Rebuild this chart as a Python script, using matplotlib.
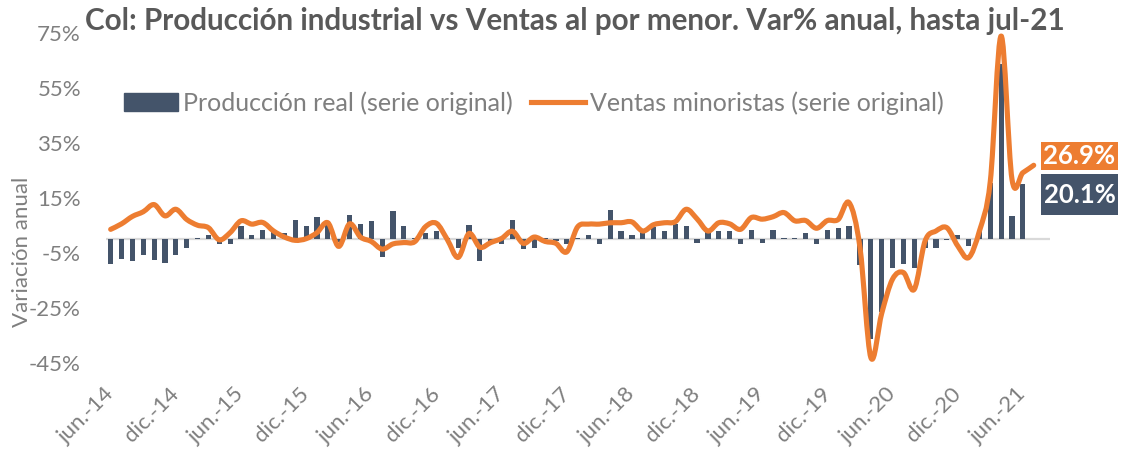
import numpy as np
import matplotlib
matplotlib.use('Agg')
import matplotlib.pyplot as plt
from matplotlib.path import Path
from matplotlib.patches import PathPatch, Rectangle
from matplotlib.lines import Line2D

plt.rcParams['font.family'] = ['Lato', 'DejaVu Sans']

# ---------------- data ----------------
mes = ['ene.', 'feb.', 'mar.', 'abr.', 'may.', 'jun.', 'jul.', 'ago.', 'sep.', 'oct.', 'nov.', 'dic.']
meses = [f"{mes[m]}-{y % 100:02d}" for y in range(2014, 2022) for m in range(12)][5:5 + 86]  # jun-14 .. jul-21

produccion = [-9.1, -7.3, -8.0, -5.8, -7.6, -8.5, -5.8, -3.0, 0.5, 1.5,
              -1.8, -1.8, 5.0, 1.5, 3.4, 2.7, 2.4, 7.1, 4.7, 8.1,
              6.5, -1.0, 9.0, 5.5, 6.7, -6.6, 10.4, 4.8, 0.6, 2.1,
              3.0, 0.5, -3.2, 5.1, -7.9, -1.0, -1.8, 7.0, -3.4, -3.1,
              0.3, -0.5, -1.8, 0.6, 1.5, -1.8, 10.7, 3.0, 1.5, 2.7,
              4.3, 2.9, 5.4, 4.8, -1.5, 2.7, 3.0, 3.0, -1.8, 3.4,
              -1.5, 3.4, 0.5, 0.5, 2.1, -1.8, 3.4, 4.0, 4.8, -9.3,
              -36.4, -26.5, -10.4, -9.0, -10.6, -3.0, -3.3, -0.4, 1.4, -2.4,
              3.0, 20.6, 63.6, 8.5, 20.1]

ventas = [3.6, 5.6, 8.3, 10.0, 12.6, 8.5, 10.9, 7.2, 5.1, 4.2,
          -0.2, 2.4, 6.7, 5.5, 6.1, 3.0, 0.8, -0.4, 0.2, 2.4,
          6.0, -2.6, 5.6, 0.8, -0.8, -3.6, -1.7, -1.2, -0.9, 4.6,
          5.8, -0.1, -6.6, 2.1, -2.9, -1.2, 0.3, 2.9, -1.5, 0.8,
          -0.8, -1.5, -4.6, 4.5, 5.5, 5.5, 6.0, 6.0, 6.3, 3.0,
          5.3, 6.0, 6.4, 10.9, 7.4, 3.0, 6.0, 5.6, 3.6, 7.9,
          7.3, 8.2, 9.7, 6.7, 6.8, 4.0, 6.8, 7.2, 13.3, -3.0,
          -43.0, -27.0, -14.5, -12.1, -18.2, -0.6, 3.0, 4.2, -2.4, -6.7,
          3.0, 21.0, 73.9, 21.8, 24.2, 26.9]

yticks = [-45, -25, -5, 15, 35, 55, 75]
serie_labels = ['Producción real (serie original)', 'Ventas minoristas (serie original)']
titulo = 'Col: Producción industrial vs Ventas al por menor. Var% anual, hasta jul-21'

C_BAR = '#44546A'
C_LINE = '#ED7D31'
C_TXT = '#7F7F7F'

W, H = 1122, 457
fig = plt.figure(figsize=(W / 100, H / 100), dpi=100)
L, R, T, B = 106, 1050, 33, 363
ax = fig.add_axes([L / W, 1 - B / H, (R - L) / W, (B - T) / H])

x_bar = np.arange(len(produccion))
ax.axhline(0, color='#D9D9D9', lw=1.6, zorder=1)
ax.bar(x_bar, produccion, width=0.48, color=C_BAR, zorder=2)


def smooth_path(y):
    pts = np.column_stack([np.arange(len(y), dtype=float), np.asarray(y, float)])
    n = len(pts)
    verts = [pts[0]]
    codes = [Path.MOVETO]
    for i in range(n - 1):
        p0 = pts[i - 1] if i > 0 else pts[i]
        p1, p2 = pts[i], pts[i + 1]
        p3 = pts[i + 2] if i + 2 < n else pts[i + 1]
        verts += [p1 + (p2 - p0) / 6, p2 - (p3 - p1) / 6, p2]
        codes += [Path.CURVE4] * 3
    return Path(verts, codes)


ax.add_patch(PathPatch(smooth_path(ventas), fill=False, edgecolor=C_LINE, lw=3.7,
                       capstyle='round', joinstyle='round', zorder=3))

ax.set_xlim(-0.43, 86.5)
ax.set_ylim(-45, 75)
for s in ax.spines.values():
    s.set_visible(False)

ax.set_yticks(yticks)
ax.set_yticklabels([f"{v}%" for v in yticks])
ax.tick_params(axis='y', length=0, pad=18, labelsize=16, labelcolor=C_TXT)

xt = list(range(0, len(produccion), 6))
ax.set_xticks(xt)
ax.set_xticklabels([meses[i] for i in xt], rotation=45, ha='right', va='center',
                   rotation_mode='anchor')
ax.tick_params(axis='x', length=0, pad=20, labelsize=16, labelcolor=C_TXT)

fig.text(22 / W, 1 - 252 / H, 'Variación anual', rotation=90, ha='center', va='center',
         fontsize=16, color=C_TXT)

fig.text(575 / W, 1 - 21 / H, titulo, ha='center', va='center', fontsize=21.3,
         fontweight='bold', color='#595959')

handles = [Rectangle((0, 0), 1, 1, color=C_BAR), Line2D([], [], color=C_LINE, lw=3.7)]
fig.legend(handles, serie_labels, loc='center left', bbox_to_anchor=(124 / W, 1 - 103 / H),
           ncol=2, frameon=False, fontsize=18, labelcolor=C_TXT, handlelength=2.15,
           handleheight=0.75, handletextpad=0.2, columnspacing=0.75, borderaxespad=0, borderpad=0)

# end-value labels
bx0, bx1 = 1041, 1118
fig.add_artist(Rectangle((bx0 / W, 1 - 170 / H), (bx1 - bx0) / W, 28 / H,
                         transform=fig.transFigure, color=C_LINE, lw=0))
fig.add_artist(Rectangle((bx0 / W, 1 - 215 / H), (bx1 - bx0) / W, 41 / H,
                         transform=fig.transFigure, color=C_BAR, lw=0))
fig.text((bx0 + bx1) / 2 / W, 1 - 156 / H, f"{ventas[-1]:.1f}%", ha='center', va='center',
         fontsize=18.5, fontweight='bold', color='white')
fig.text((bx0 + bx1) / 2 / W, 1 - 195 / H, f"{produccion[-1]:.1f}%", ha='center', va='center',
         fontsize=18.5, fontweight='bold', color='white')

fig.savefig('out.png', dpi=100)
